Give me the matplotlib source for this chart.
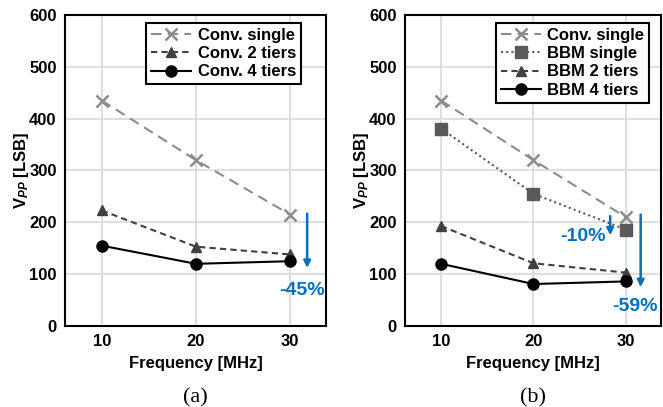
import matplotlib
matplotlib.use("Agg")
import matplotlib.pyplot as plt

plt.rcParams["font.family"] = ["Liberation Sans", "DejaVu Sans"]
plt.rcParams["font.weight"] = "bold"
plt.rcParams["mathtext.fontset"] = "custom"
plt.rcParams["mathtext.rm"] = "Liberation Sans:bold"
plt.rcParams["mathtext.bf"] = "Liberation Sans:bold"
plt.rcParams["mathtext.it"] = "Liberation Sans:bold:italic"

freq = [10, 20, 30]

# panel (a)
conv_single = [435, 320, 215]
conv_2tiers = [223, 153, 138]
conv_4tiers = [155, 120, 125]

# panel (b)
conv_single_b = [435, 320, 210]
bbm_single = [381, 255, 186]
bbm_2tiers = [193, 121, 103]
bbm_4tiers = [120, 81, 86]

yticks = [0, 100, 200, 300, 400, 500, 600]
blue = "#0070C0"

W, H = 663, 407
fig = plt.figure(figsize=(W / 100, H / 100), dpi=100)
ax_a = fig.add_axes([65 / W, 81 / H, 261 / W, 311 / H])
ax_b = fig.add_axes([405 / W, 81 / H, 256 / W, 311 / H])


def style_axes(ax):
    ax.set_xlim(6.1, 33.8)
    ax.set_ylim(0, 600)
    ax.set_xticks(freq)
    ax.set_yticks(yticks)
    ax.grid(True, color="#d9d9d9", lw=1.2)
    ax.set_axisbelow(True)
    ax.tick_params(length=0, labelsize=12, pad=6)
    for s in ax.spines.values():
        s.set_linewidth(1.5)
        s.set_color("black")
    ax.set_xlabel("Frequency [MHz]", fontsize=12, fontweight="bold", labelpad=5)
    ax.set_ylabel(r"$\mathbf{V}_{\mathit{PP}}$ [LSB]", fontsize=12,
                  fontweight="bold", labelpad=-1)


def add_legend(ax, anchor):
    leg = ax.legend(loc="upper right", bbox_to_anchor=anchor, fontsize=12,
                    fancybox=False, edgecolor="black", framealpha=1,
                    borderpad=0.3, labelspacing=0.2, handlelength=2.4,
                    handletextpad=0.4, borderaxespad=0)
    leg.get_frame().set_linewidth(1.5)


def arrow(ax, x, y0, y1):
    ax.annotate("", xy=(x, y1), xytext=(x, y0),
                arrowprops=dict(arrowstyle="-|>", color=blue, lw=1.8,
                                mutation_scale=10, shrinkA=0, shrinkB=0))


# (a)
ax = ax_a
ax.plot(freq, conv_single, color="#8c8c8c", ls=(0, (5, 3)), lw=1.5,
        marker="x", ms=9, mew=1.8, label="Conv. single")
ax.plot(freq, conv_2tiers, color="#404040", ls=(0, (3, 2)), lw=1.5,
        marker="^", ms=7, label="Conv. 2 tiers")
ax.plot(freq, conv_4tiers, color="black", ls="-", lw=1.5,
        marker="o", ms=8, label="Conv. 4 tiers")
style_axes(ax)
add_legend(ax, (0.905, 0.975))
arrow(ax, 31.8, 217, 112)
ax.text(31.3, 68, "-45%", color=blue, fontsize=14, fontweight="bold",
        ha="center", va="center")
ax.text(0.5, -0.2, "(a)", transform=ax.transAxes, ha="center", va="top",
        fontsize=16, fontweight="normal", family="Liberation Serif")

# (b)
ax = ax_b
ax.plot(freq, conv_single_b, color="#8c8c8c", ls=(0, (5, 3)), lw=1.5,
        marker="x", ms=9, mew=1.8, label="Conv. single")
ax.plot(freq, bbm_single, color="#595959", ls=(0, (1, 1.5)), lw=1.5,
        marker="s", ms=8, label="BBM single")
ax.plot(freq, bbm_2tiers, color="#404040", ls=(0, (3, 2)), lw=1.5,
        marker="^", ms=7, label="BBM 2 tiers")
ax.plot(freq, bbm_4tiers, color="black", ls="-", lw=1.5,
        marker="o", ms=8, label="BBM 4 tiers")
style_axes(ax)
add_legend(ax, (0.955, 0.975))
arrow(ax, 28.3, 212, 175)
ax.text(25.4, 172, "-10%", color=blue, fontsize=14, fontweight="bold",
        ha="center", va="center")
arrow(ax, 31.6, 215, 75)
ax.text(31.0, 37, "-59%", color=blue, fontsize=14, fontweight="bold",
        ha="center", va="center")
ax.text(0.5, -0.2, "(b)", transform=ax.transAxes, ha="center", va="top",
        fontsize=16, fontweight="normal", family="Liberation Serif")

fig.savefig("out.png", dpi=100)
